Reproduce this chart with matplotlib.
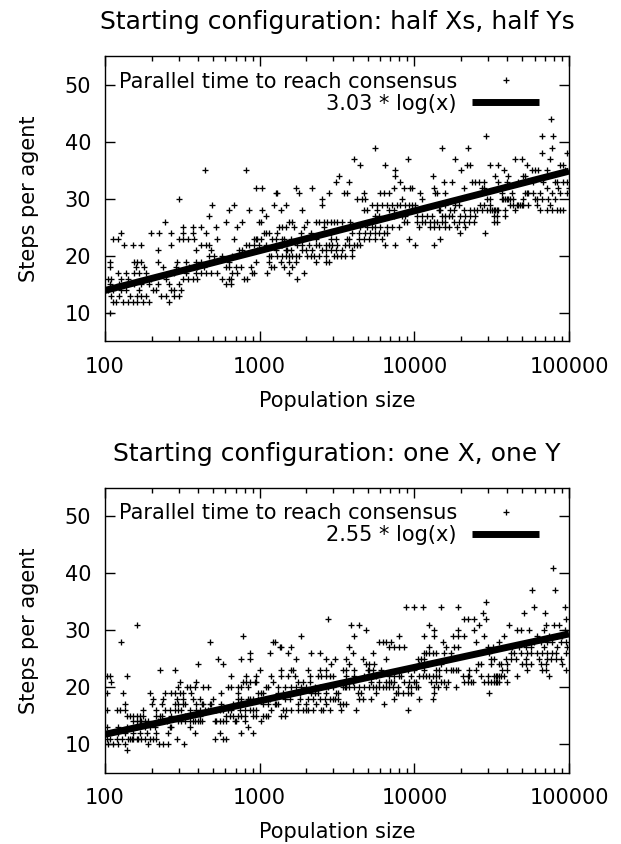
import matplotlib
matplotlib.use('Agg')
import matplotlib.pyplot as plt
from matplotlib.ticker import NullFormatter, LogLocator
import numpy as np

plt.rcParams['font.family'] = ['DejaVu Sans']
plt.rcParams['font.size'] = 15

# Textos y valores
titles = ['Starting configuration: half Xs, half Ys',
          'Starting configuration: one X, one Y']
fit_coef = [3.03, 2.55]
fit_labels = ['3.03 * log(x)', '2.55 * log(x)']
x_ticks = [100, 1000, 10000, 100000]
y_ticks = [10, 20, 30, 40, 50]

# pasos por agente -> tamanos de poblacion con ese valor (mitad Xs, mitad Ys)
half_rows = {
    10: [108],
    12: [112, 118, 130, 140, 151, 162, 175, 193, 260],
    13: [109, 124, 144, 162, 171, 184, 230, 247, 280, 302],
    14: [104, 112, 127, 137, 167, 203, 213, 267, 280, 309],
    15: [107, 124, 140, 155, 171, 193, 219, 260, 302, 603, 650],
    16: [104, 109, 127, 140, 188, 198, 247, 317, 342, 368, 396, 574, 634, 650, 792, 832, 1750],
    17: [121, 137, 155, 167, 184, 280, 333, 387, 416, 448, 483, 533, 666, 718, 897, 919, 1120,
         1546, 1932],
    18: [107, 158, 179, 236, 287, 350, 396, 438, 603, 634, 700, 754, 875, 1177, 1237, 1436, 1624],
    19: [107, 155, 162, 171, 219, 294, 333, 387, 416, 634, 942, 1149, 1366, 1546, 1707, 2297,
         2665, 2800],
    20: [471, 508, 574, 666, 1149, 1177, 1300, 1401, 1472, 1546, 1624, 1707, 1794, 2030, 2133,
         2241, 2414, 2665, 3016, 3169, 3331, 3587, 3961],
    21: [219, 387, 483, 736, 773, 966, 1268, 1472, 1508, 1585, 1885, 1980, 2186, 2536, 2665, 2870,
         3092, 3415, 3961],
    22: [133, 151, 171, 267, 416, 448, 471, 812, 854, 919, 990, 1093, 1366, 1401, 1750, 1885, 2081,
         2297, 2414, 2665, 2800, 2943, 3169, 3587, 3769, 4060, 4267, 4483, 6500, 7541, 10150, 13320],
    23: [112, 121, 302, 317, 342, 377, 533, 683, 919, 942, 966, 1015, 1207, 1268, 1401, 1436, 1585,
         1838, 2297, 2870, 3092, 3677, 3769, 4373, 4711, 5074, 5602, 6186, 9192, 14710],
    24: [127, 198, 224, 267, 317, 368, 448, 1066, 1093, 1149, 1300, 1838, 2133, 2870, 3961, 4373,
         4829, 5201, 5602, 5887, 6341, 6663, 19810, 28430],
    25: [317, 368, 416, 520, 718, 1333, 1401, 1472, 1665, 1932, 2600, 4483, 4950, 5332, 5602, 6034,
         6663, 7177, 7924, 10660, 12680, 13320, 14350, 15850, 16650, 18850, 21330],
    26: [244, 603, 773, 990, 1015, 1546, 1624, 2030, 2297, 2414, 2600, 2732, 2870, 3016, 3169, 3415,
         3864, 8534, 8967, 10400, 11200, 11770, 12680, 13320, 14000, 15080, 15850, 17940, 19320,
         20810, 22410, 24140, 32500, 34150],
    27: [467, 1093, 5602, 5887, 7357, 8326, 8749, 10400, 11200, 12070, 13000, 15080, 15850, 16650,
         17500, 19810, 21330, 22970, 24740, 32500, 34150, 38640],
    28: [634, 854, 1040, 1366, 1885, 4711, 4950, 5743, 6830, 7357, 9658, 14350, 14710, 17070, 17940,
         20810, 22970, 24140, 25370, 27330, 29430, 30930, 31700, 32500, 33310, 34150, 34990, 38640,
         44830, 65000, 71770, 77310, 83270, 87500, 91920],
    29: [495, 683, 1237, 1472, 2536, 5332, 5743, 6186, 6663, 7177, 7730, 8122, 8749, 9192, 9658,
         10150, 15850, 18390, 19320, 26660, 28020, 30930, 41620, 43730, 45950, 47100, 48290, 49500,
         50740, 54660, 61850, 75410],
    30: [299, 2536, 4267, 4595, 4829, 8326, 11200, 29430, 30930, 36780, 37700, 38640, 39610, 40600,
         41620, 43730, 50740, 60340, 61850, 66630, 73560, 81230],
    31: [1268, 1300, 1794, 2800, 3499, 3677, 4711, 6034, 6341, 6830, 10930, 13660, 14000, 15850,
         36780, 42660, 52020, 53320, 54660, 58870, 65000, 77310, 87500, 96570],
    32: [942, 1040, 1707, 2186, 7357, 8534, 9422, 9658, 13320, 20810, 27330, 28020, 71770, 85350,
         99500],
    33: [3092, 3769, 8122, 15460, 17500, 23550, 24740, 26000, 28020, 34990, 39610, 47100, 58870,
         68300, 81230, 83270, 91920, 96570],
    34: [3281, 7467, 13130, 33310, 40600, 50740, 52020],
    35: [442, 812, 7541, 20100, 38260, 57430, 60340, 63400, 71770, 94210],
    36: [4483, 6500, 21860, 22970, 30930, 34990, 53320, 87500, 91920],
    37: [4060, 9057, 18200, 44830, 49500, 75410],
    38: [66630, 96570],
    39: [5546, 15080, 22190, 77310],
    41: [29140, 66630, 79240],
    44: [76530],
}

# pasos por agente -> tamanos de poblacion (un X, un Y)
one_rows = {
    9: [138],
    10: [105, 113, 122, 135, 190, 223, 238, 254, 325],
    11: [103, 108, 119, 128, 141, 145, 149, 152, 160, 164, 172, 181, 195, 205, 215, 290, 513, 580,
         609],
    12: [105, 122, 135, 152, 168, 186, 215, 256, 381, 552, 761, 906],
    13: [103, 122, 138, 160, 181, 195, 210, 263, 269, 354, 841],
    14: [152, 160, 168, 172, 181, 190, 221, 226, 238, 250, 297, 312, 328, 354, 372, 381, 400, 410,
         421, 513, 525, 552, 580, 609, 690, 707, 800, 1025],
    15: [138, 145, 152, 160, 168, 177, 215, 226, 232, 269, 328, 345, 410, 609, 640, 673, 725, 761,
         800, 906, 952, 1051, 1104, 1132, 1380, 1450],
    16: [103, 119, 125, 135, 177, 215, 244, 263, 283, 297, 312, 354, 390, 410, 442, 464, 525, 552,
         580, 625, 657, 743, 800, 862, 906, 952, 1189, 1414, 1486, 1601, 1767, 1903, 2000, 2050,
         2208, 2499, 2562, 2829, 3365, 4204, 9056],
    17: [135, 200, 232, 283, 297, 320, 328, 390, 421, 431, 476, 488, 566, 673, 743, 1051, 1132,
         1250, 1281, 1313, 1767, 2000, 2320, 2692, 3282, 3449, 3624, 6402],
    18: [205, 238, 290, 320, 372, 410, 500, 725, 761, 841, 862, 906, 975, 1104, 1160, 1450, 1561,
         1811, 2050, 2208, 2438, 2626, 2829, 2972, 3047, 3202, 4418, 4641, 5252, 7428, 10770, 13130],
    19: [103, 131, 195, 244, 269, 283, 305, 320, 362, 566, 725, 975, 1025, 1051, 1313, 1414, 1811,
         2154, 2264, 2378, 2692, 3123, 3202, 4309, 4528, 5657, 7613, 7805, 8406, 9056, 9517, 13460,
         30470],
    20: [297, 337, 354, 381, 431, 464, 625, 657, 725, 761, 841, 1104, 1132, 1313, 1450, 1601, 1724,
         1857, 2000, 2264, 2438, 2760, 2972, 3449, 3535, 3624, 3807, 4102, 4418, 4758, 5124, 5384,
         5657, 5944, 6245, 6563, 6897, 7246, 7805, 9056, 9517, 10250, 10510, 13460, 14140, 16010,
         18570],
    21: [110, 305, 390, 781, 820, 862, 928, 952, 1219, 1767, 1903, 2102, 3535, 4001, 5252, 5944,
         6563, 6897, 7070, 7428, 8617, 9282, 10000, 10250, 12810, 13800, 14860, 15620, 16410, 21020,
         22090, 23200, 23780, 28290, 29720, 31230, 32820, 33640, 34480, 35350, 40000],
    22: [103, 108, 138, 657, 820, 952, 1189, 1380, 1523, 1682, 2102, 2378, 2499, 2692, 2829, 2972,
         3624, 4102, 4758, 5124, 5384, 5657, 6897, 7428, 8000, 8201, 9517, 10770, 11320, 11890,
         12500, 13130, 13800, 14500, 20500, 22090, 22630, 26920, 29720, 32820, 33640, 34480, 35350,
         36230, 38070, 46420, 74290],
    23: [226, 283, 1000, 1380, 1601, 1641, 2050, 2438, 2692, 3449, 3624, 4102, 4999, 5124, 5384,
         6093, 9056, 10000, 11600, 13800, 14500, 16010, 17240, 17670, 18570, 19030, 22630, 24990,
         37140, 40000, 53850, 67280, 70680, 95180],
    24: [400, 580, 2900, 3807, 4878, 5124, 5519, 10770, 12190, 14860, 25620, 26920, 31230, 35350,
         36230, 40000, 50000, 52530, 56590, 65640, 70680, 90570],
    25: [539, 761, 862, 1724, 2692, 3047, 3624, 4641, 6563, 10510, 11040, 11600, 31230, 32820,
         39030, 42050, 45280, 52530, 64030, 72450, 76150, 82000, 88360],
    26: [862, 1160, 1523, 2154, 2438, 4001, 5384, 11600, 11890, 12500, 13130, 13800, 15620, 17240,
         30470, 42050, 44180, 48780, 53850, 56590, 62470, 67280, 72450, 78060, 82000, 95180],
    27: [1346, 1380, 1601, 3807, 6897, 7428, 8000, 8617, 12500, 16010, 18110, 19030, 29720, 32020,
         43100, 47580, 52530, 56590, 68970, 84060, 97540],
    28: [127, 476, 1219, 1250, 5944, 6245, 6563, 7070, 15230, 24990, 35350, 59470, 65640, 72450,
         78060, 88360, 95180],
    29: [781, 1857, 4102, 8000, 11600, 13460, 17670, 19030, 21020, 28290, 38070, 62470, 74290,
         84060, 90570],
    30: [4878, 13460, 19030, 24380, 46420, 48780, 55200, 68970, 94240],
    31: [162, 3903, 4418, 12500, 26260, 41010, 71390, 80000, 86150],
    32: [2760, 21020, 22090, 24380, 29000, 95180],
    33: [27870, 51250, 70000],
    34: [8833, 10000, 11320, 14860, 19030, 59470, 94240],
    35: [29000],
    37: [57430, 80790],
    41: [79240],
}


def rows_to_xy(rows):
    pop, steps = [], []
    for s, pops in rows.items():
        pop += pops
        steps += [s] * len(pops)
    return pop, steps


fig = plt.figure(figsize=(6.21, 8.44), dpi=100)
boxes = [[0.1691, 0.5954, 0.7472, 0.3377], [0.1691, 0.0844, 0.7472, 0.3377]]

for box, title, rows, coef, flabel in zip(boxes, titles, [half_rows, one_rows], fit_coef, fit_labels):
    ax = fig.add_axes(box)
    pop, steps = rows_to_xy(rows)
    ax.plot(pop, steps, '+', color='black', ms=4.6, mew=0.95,
            label='Parallel time to reach consensus')
    ends = np.array([x_ticks[0], x_ticks[-1]])
    ax.plot(ends, coef * np.log(ends), color='black', lw=5, solid_capstyle='butt', label=flabel)

    ax.set_xscale('log')
    ax.set_xlim(100, 100000)
    ax.set_ylim(5, 55)
    ax.set_xticks(x_ticks)
    ax.set_xticklabels([str(t) for t in x_ticks])
    ax.xaxis.set_minor_locator(LogLocator(base=10, subs=np.arange(2, 10)))
    ax.xaxis.set_minor_formatter(NullFormatter())
    ax.set_yticks(y_ticks)
    ax.tick_params(which='both', direction='in', top=True, right=True, width=1)
    ax.tick_params(which='major', length=7)
    ax.tick_params(which='minor', length=3.5)
    ax.tick_params(axis='x', pad=11)
    ax.tick_params(axis='y', pad=10)
    for sp in ax.spines.values():
        sp.set_linewidth(1)

    ax.set_title(title, pad=19.5)
    ax.set_xlabel('Population size')
    ax.xaxis.set_label_coords(0.5, -0.172)
    ax.set_ylabel('Steps per agent')
    ax.yaxis.set_label_coords(-0.143, 0.5)

    ax.legend(loc='upper right', bbox_to_anchor=(0.9355, 0.947), frameon=False,
              markerfirst=False, handlelength=3.2, handletextpad=0.75, borderpad=0,
              borderaxespad=0, labelspacing=0.1, numpoints=1)

fig.savefig('out.png', dpi=100)
